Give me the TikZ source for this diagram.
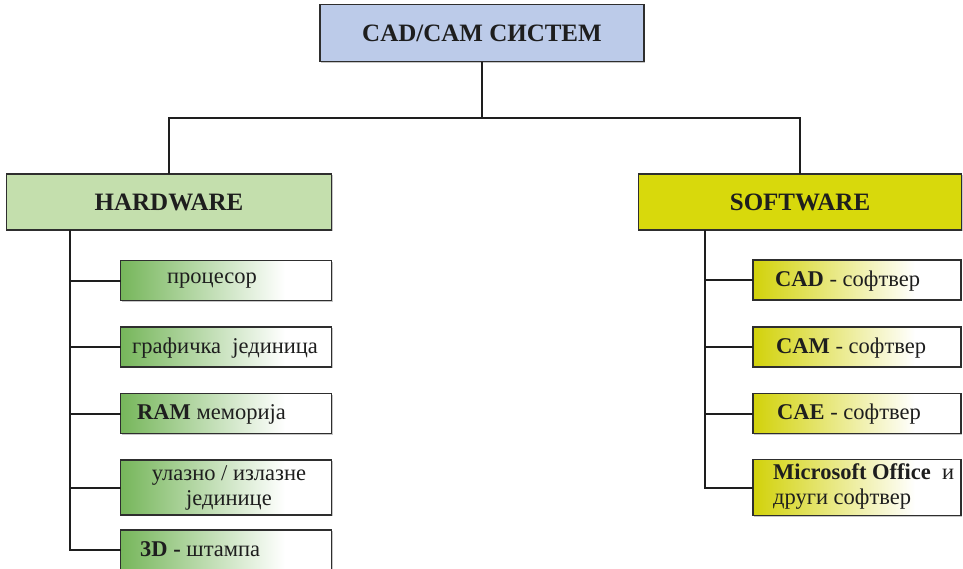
\documentclass[tikz,border=0pt]{standalone}
\usepackage{fontspec}
\setmainfont{Liberation Serif}
\usetikzlibrary{shadows}
\definecolor{topblue}{HTML}{BCCBE9}
\definecolor{hwgreen}{HTML}{C4DFAD}
\definecolor{swyellow}{HTML}{D8D90C}
\definecolor{hwgrad}{HTML}{76B65A}
\definecolor{swgrad}{HTML}{D2D20A}
\definecolor{edge}{HTML}{2E2E2E}
\definecolor{ink}{HTML}{1E1E1E}
\pgfdeclarehorizontalshading{hwshade}{100bp}{color(0bp)=(hwgrad); color(25bp)=(hwgrad); color(64bp)=(white); color(100bp)=(white)}
\pgfdeclarehorizontalshading{swshade}{100bp}{color(0bp)=(swgrad); color(25bp)=(swgrad); color(64bp)=(white); color(100bp)=(white)}
\tikzset{
  box/.style={draw=edge, line width=1.5pt, inner sep=0pt, outer sep=0pt,
    drop shadow={shadow xshift=1pt, shadow yshift=-1.2pt, opacity=0.45}},
  titlebox/.style={box, minimum width=324pt, minimum height=57pt,
    font=\fontsize{25}{29}\selectfont\bfseries, text=ink},
  hwitem/.style={box, shading=hwshade, minimum width=211pt, minimum height=40pt},
  switem/.style={box, shading=swshade, minimum width=208pt, minimum height=40pt},
  lbl/.style={font=\fontsize{22.5}{25.5}\selectfont, text=ink, inner sep=0pt},
  conn/.style={draw=ink, line width=2pt}
}
\begin{document}
\begin{tikzpicture}[x=1pt,y=-1pt]
\useasboundingbox (0,0) rectangle (963,568);
% title boxes
\node[titlebox, fill=topblue] (top) at (482,33) {CAD/CAM СИСТЕМ};
\node[titlebox, fill=hwgreen, minimum width=325pt, minimum height=56pt] (hw) at (169,202) {HARDWARE};
\node[titlebox, fill=swyellow, minimum width=323pt, minimum height=56pt] (sw) at (800,202) {SOFTWARE};
% hardware items
\node[hwitem] (h1) at (226,280.5) {};
\node[hwitem] (h2) at (226,347) {};
\node[hwitem] (h3) at (226,413.5) {};
\node[hwitem, minimum height=55pt] (h4) at (226,487.5) {};
\node[hwitem] (h5) at (226,550) {};
% software items
\node[switem] (s1) at (857,280) {};
\node[switem] (s2) at (857,347) {};
\node[switem] (s3) at (857,413.5) {};
\node[switem, minimum height=56pt] (s4) at (857,487.5) {};
% labels
\node[lbl, anchor=west] (t1) at (167,281) {процесор};
\node[lbl, anchor=west] (t2) at (132,348) {графичка\ \ јединица};
\node[lbl, anchor=west] (t3) at (137,414.5) {\textbf{RAM} меморија};
\node[lbl, align=center] (t4) at (229,488) {улазно / излазне\\јединице};
\node[lbl, anchor=west] (t5) at (140,549.5) {\textbf{3D -} штампа};
\node[lbl, anchor=west] (u1) at (775,281) {\textbf{CAD} - софтвер};
\node[lbl, anchor=west] (u2) at (776,348) {\textbf{CAM} - софтвер};
\node[lbl, anchor=west] (u3) at (777,414.5) {\textbf{CAE} - софтвер};
\node[lbl, anchor=west, align=left] (u4) at (773,486.5) {\textbf{Microsoft Office}\ \ и\\други софтвер};
% connectors
\coordinate (bar) at (482,118);
\coordinate (hwx) at (70,0);
\coordinate (swx) at (705,0);
\draw[conn] (top.south) -- (bar);
\draw[conn] (hw.north) |- (bar) -| (sw.north);
\draw[conn] (hw.south -| hwx) |- (h5.west);
\draw[conn] (hwx |- h1.west) -- (h1.west);
\draw[conn] (hwx |- h2.west) -- (h2.west);
\draw[conn] (hwx |- h3.west) -- (h3.west);
\draw[conn] (hwx |- h4.west) -- (h4.west);
\draw[conn] (sw.south -| swx) |- (s4.west);
\draw[conn] (swx |- s1.west) -- (s1.west);
\draw[conn] (swx |- s2.west) -- (s2.west);
\draw[conn] (swx |- s3.west) -- (s3.west);
\end{tikzpicture}
\end{document}
